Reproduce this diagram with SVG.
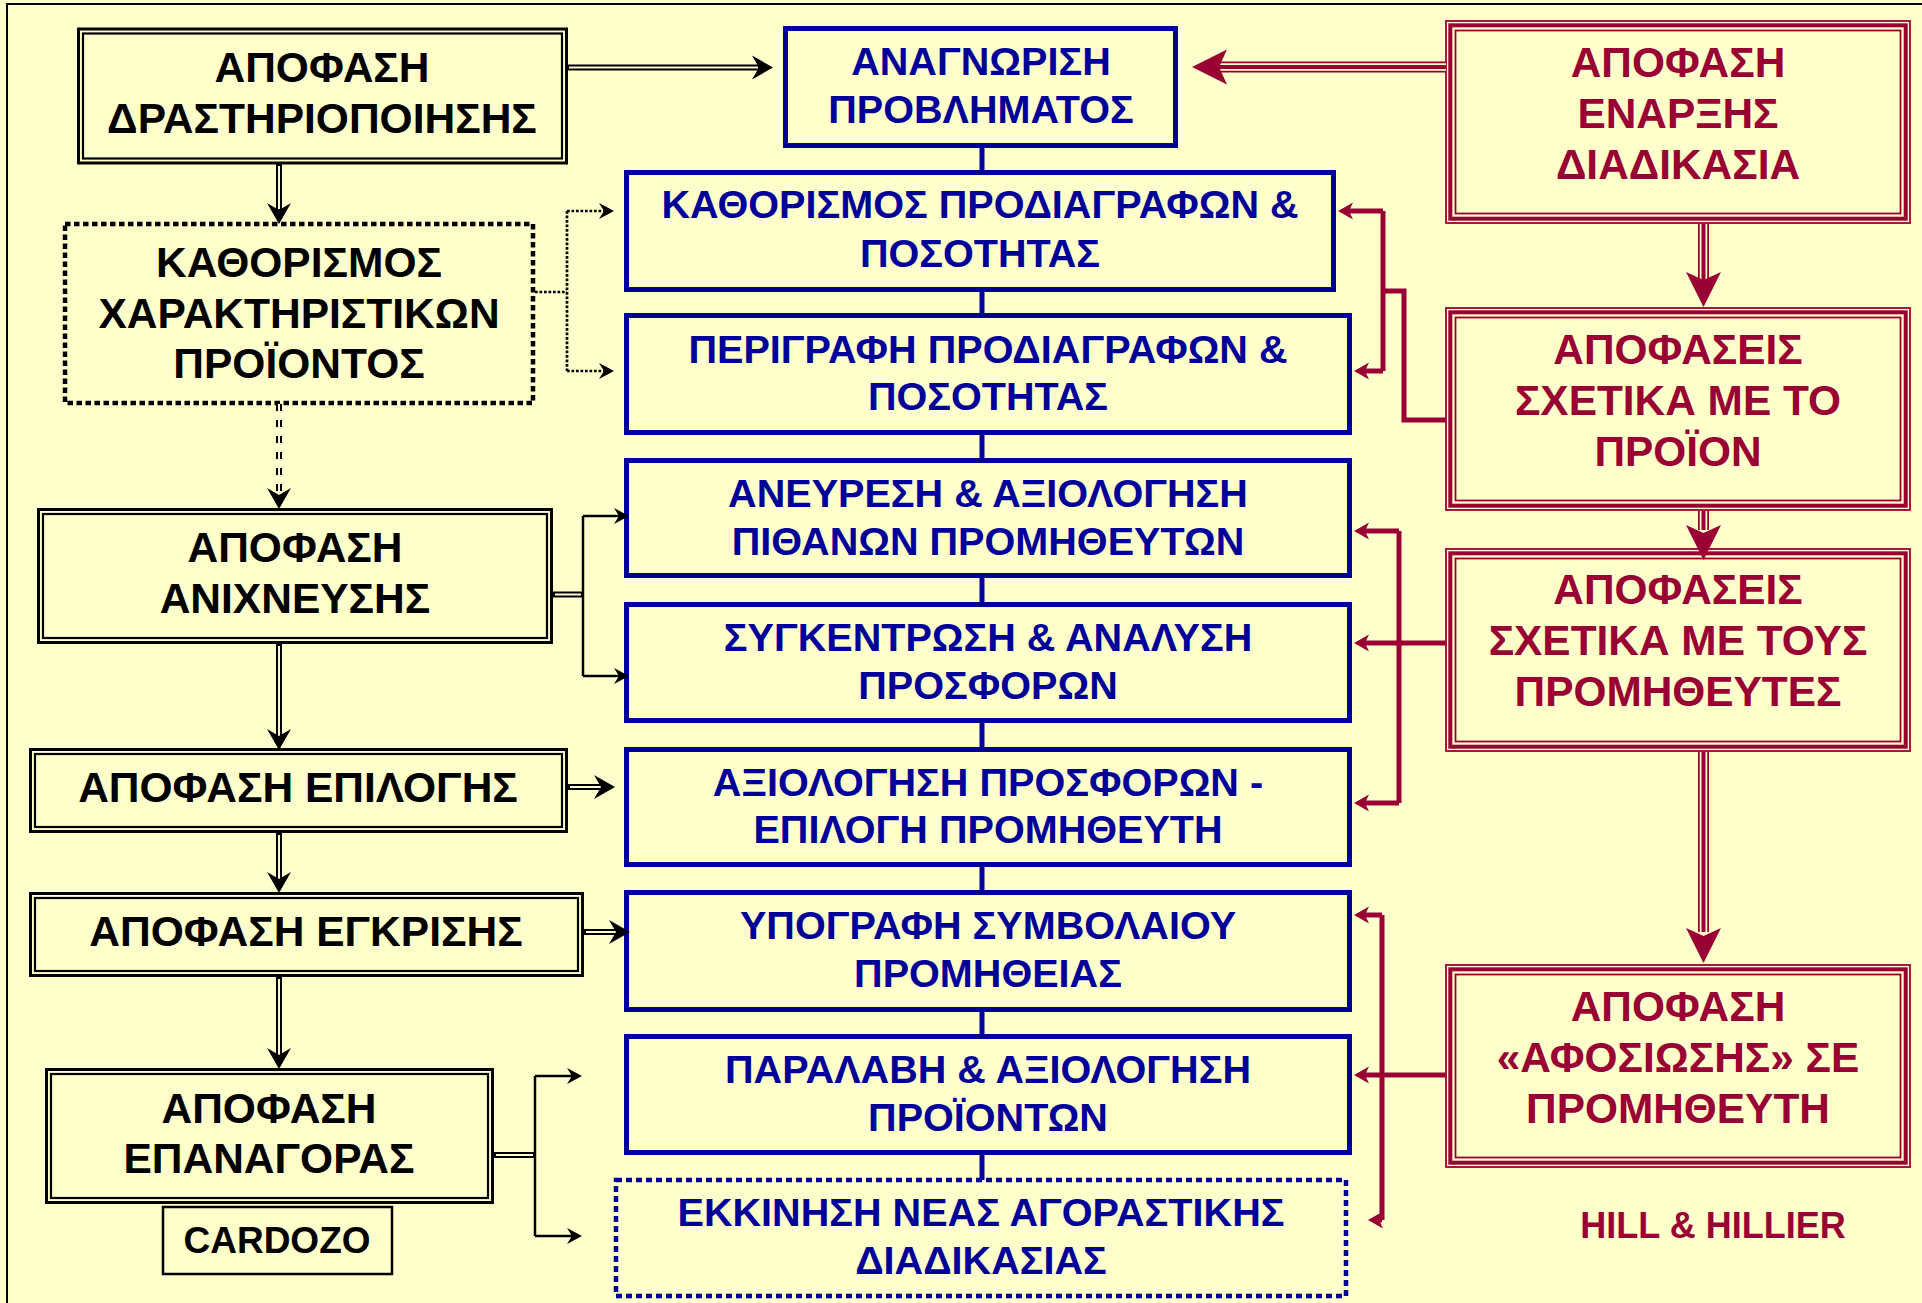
<svg xmlns="http://www.w3.org/2000/svg" xmlns:xlink="http://www.w3.org/1999/xlink" width="1922" height="1303" viewBox="0 0 1922 1303">
<style>
.t{font-family:"Liberation Sans",Arial,"DejaVu Sans",sans-serif;font-weight:bold;text-anchor:middle}
.tk{fill:#000;font-size:42.5px}
.tb{fill:#000099;font-size:39.6px}
.tr{fill:#990033;font-size:42.4px}
.ko{fill:#FFFFCC;stroke:#000;stroke-width:3}
.ki{fill:none;stroke:#000;stroke-width:2.2}
.bb{fill:#FFFFCC;stroke:#000099;stroke-width:5}
.bd{fill:#FFFFCC;stroke:#000099;stroke-width:4.5;stroke-dasharray:6 4}
.kd{fill:#FFFFCC;stroke:#000;stroke-width:4.5;stroke-dasharray:5.5 3.5}
.r1{fill:#FFFFCC;stroke:#990033;stroke-width:1.8}
.r2{fill:none;stroke:#990033;stroke-width:4}
.r3{fill:none;stroke:#990033;stroke-width:1.8}
.dk{fill:none;stroke:#000;stroke-width:6}
.dy{fill:none;stroke:#FFFFCC;stroke-width:2}
.dash{stroke-dasharray:7 9}
.sk{fill:none;stroke:#000;stroke-width:2.5}
.dot{fill:none;stroke:#000;stroke-width:2.7;stroke-dasharray:2.7 1.8}
.ta{fill:none;stroke:#990033;stroke-width:11}
.tb2{fill:none;stroke:#FFFFCC;stroke-width:7.5}
.tc{fill:none;stroke:#990033;stroke-width:4}
.rl{fill:none;stroke:#990033;stroke-width:5}
.bl{fill:none;stroke:#000099;stroke-width:5}
</style>
<defs>
<path id="ahK" d="M0,0 L-21,-12 L-14,0 L-21,12 Z"/>
<path id="ahk" d="M0,0 L-15,-8 L-10,0 L-15,8 Z"/>
<path id="ahR" d="M0,0 L-35,-17.5 L-27,0 L-35,17.5 Z"/>
<path id="ahr" d="M0,0 L-15,-8.5 L-11,0 L-15,8.5 Z"/>
<g id="rframe">
<rect class="r1" x="1" y="1" width="464" height="202"/>
<rect class="r2" x="5.3" y="5.3" width="455.4" height="193.4"/>
<rect class="r3" x="10.5" y="10.5" width="445" height="183"/>
</g>
</defs>
<rect x="0" y="0" width="1922" height="1303" fill="#FFFFCC"/>
<path d="M7,1303 V4 H1922" fill="none" stroke="#000" stroke-width="2"/>

<g id="nodes">
<g id="L1">
<rect class="ko" x="78.5" y="29" width="488" height="134"/>
<rect class="ki" x="83" y="33.5" width="479" height="125"/>
<text class="t tk" x="322" y="82">ΑΠΟΦΑΣΗ</text>
<text class="t tk" x="322" y="133">ΔΡΑΣΤΗΡΙΟΠΟΙΗΣΗΣ</text>
</g>
<g id="L2">
<rect class="kd" x="65" y="224" width="468" height="179"/>
<text class="t tk" x="299" y="277">ΚΑΘΟΡΙΣΜΟΣ</text>
<text class="t tk" x="299" y="328">ΧΑΡΑΚΤΗΡΙΣΤΙΚΩΝ</text>
<text class="t tk" x="299" y="378">ΠΡΟΪΟΝΤΟΣ</text>
</g>
<g id="L3">
<rect class="ko" x="38.5" y="509.5" width="513" height="133"/>
<rect class="ki" x="43" y="514" width="504" height="124"/>
<text class="t tk" x="295" y="562">ΑΠΟΦΑΣΗ</text>
<text class="t tk" x="295" y="613">ΑΝΙΧΝΕΥΣΗΣ</text>
</g>
<g id="L4">
<rect class="ko" x="30.5" y="749.5" width="536" height="82"/>
<rect class="ki" x="35" y="754" width="527" height="73"/>
<text class="t tk" x="298" y="802">ΑΠΟΦΑΣΗ ΕΠΙΛΟΓΗΣ</text>
</g>
<g id="L5">
<rect class="ko" x="30.5" y="893.5" width="552" height="82"/>
<rect class="ki" x="35" y="898" width="543" height="73"/>
<text class="t tk" x="306" y="946">ΑΠΟΦΑΣΗ ΕΓΚΡΙΣΗΣ</text>
</g>
<g id="L6">
<rect class="ko" x="46.5" y="1069.5" width="446" height="133"/>
<rect class="ki" x="51" y="1074" width="437" height="124"/>
<text class="t tk" x="269" y="1123">ΑΠΟΦΑΣΗ</text>
<text class="t tk" x="269" y="1173">ΕΠΑΝΑΓΟΡΑΣ</text>
</g>
<g id="cardozo">
<rect x="163" y="1207" width="229" height="67" fill="#FFFFCC" stroke="#000" stroke-width="2.5"/>
<text class="t" x="277" y="1253" font-size="37" fill="#000">CARDOZO</text>
</g>

<g id="B1">
<rect class="bb" x="785.5" y="28.5" width="390" height="117"/>
<text class="t tb" x="981" y="75">ΑΝΑΓΝΩΡΙΣΗ</text>
<text class="t tb" x="981" y="123">ΠΡΟΒΛΗΜΑΤΟΣ</text>
</g>
<g id="B2">
<rect class="bb" x="626.5" y="172.5" width="707" height="117"/>
<text class="t tb" x="980" y="218">ΚΑΘΟΡΙΣΜΟΣ ΠΡΟΔΙΑΓΡΑΦΩΝ &amp;</text>
<text class="t tb" x="980" y="267">ΠΟΣΟΤΗΤΑΣ</text>
</g>
<g id="B3">
<rect class="bb" x="626.5" y="315.5" width="723" height="117"/>
<text class="t tb" x="988" y="363">ΠΕΡΙΓΡΑΦΗ ΠΡΟΔΙΑΓΡΑΦΩΝ &amp;</text>
<text class="t tb" x="988" y="410">ΠΟΣΟΤΗΤΑΣ</text>
</g>
<g id="B4">
<rect class="bb" x="626.5" y="460.5" width="723" height="115"/>
<text class="t tb" x="988" y="507">ΑΝΕΥΡΕΣΗ &amp; ΑΞΙΟΛΟΓΗΣΗ</text>
<text class="t tb" x="988" y="555">ΠΙΘΑΝΩΝ ΠΡΟΜΗΘΕΥΤΩΝ</text>
</g>
<g id="B5">
<rect class="bb" x="626.5" y="604.5" width="723" height="116"/>
<text class="t tb" x="988" y="651">ΣΥΓΚΕΝΤΡΩΣΗ &amp; ΑΝΑΛΥΣΗ</text>
<text class="t tb" x="988" y="699">ΠΡΟΣΦΟΡΩΝ</text>
</g>
<g id="B6">
<rect class="bb" x="626.5" y="749.5" width="723" height="115"/>
<text class="t tb" x="988" y="796">ΑΞΙΟΛΟΓΗΣΗ ΠΡΟΣΦΟΡΩΝ -</text>
<text class="t tb" x="988" y="843">ΕΠΙΛΟΓΗ ΠΡΟΜΗΘΕΥΤΗ</text>
</g>
<g id="B7">
<rect class="bb" x="626.5" y="892.5" width="723" height="117"/>
<text class="t tb" x="988" y="939">ΥΠΟΓΡΑΦΗ ΣΥΜΒΟΛΑΙΟΥ</text>
<text class="t tb" x="988" y="987">ΠΡΟΜΗΘΕΙΑΣ</text>
</g>
<g id="B8">
<rect class="bb" x="626.5" y="1036.5" width="723" height="116"/>
<text class="t tb" x="988" y="1083">ΠΑΡΑΛΑΒΗ &amp; ΑΞΙΟΛΟΓΗΣΗ</text>
<text class="t tb" x="988" y="1131">ΠΡΟΪΟΝΤΩΝ</text>
</g>
<g id="B9">
<rect class="bd" x="616" y="1180" width="730" height="116"/>
<text class="t tb" x="981" y="1226">ΕΚΚΙΝΗΣΗ ΝΕΑΣ ΑΓΟΡΑΣΤΙΚΗΣ</text>
<text class="t tb" x="981" y="1274">ΔΙΑΔΙΚΑΣΙΑΣ</text>
</g>

<g id="R1" transform="translate(1445,20)">
<use xlink:href="#rframe" href="#rframe"/>
<text class="t tr" x="233" y="57">ΑΠΟΦΑΣΗ</text>
<text class="t tr" x="233" y="108">ΕΝΑΡΞΗΣ</text>
<text class="t tr" x="233" y="159">ΔΙΑΔΙΚΑΣΙΑ</text>
</g>
<g id="R2" transform="translate(1445,307)">
<use xlink:href="#rframe" href="#rframe"/>
<text class="t tr" x="233" y="57">ΑΠΟΦΑΣΕΙΣ</text>
<text class="t tr" x="233" y="108">ΣΧΕΤΙΚΑ ΜΕ ΤΟ</text>
<text class="t tr" x="233" y="159">ΠΡΟΪΟΝ</text>
</g>
<g id="R3" transform="translate(1445,548)">
<use xlink:href="#rframe" href="#rframe"/>
<text class="t tr" x="233" y="56">ΑΠΟΦΑΣΕΙΣ</text>
<text class="t tr" x="233" y="107">ΣΧΕΤΙΚΑ ΜΕ ΤΟΥΣ</text>
<text class="t tr" x="233" y="158">ΠΡΟΜΗΘΕΥΤΕΣ</text>
</g>
<g id="R4" transform="translate(1445,964)">
<use xlink:href="#rframe" href="#rframe"/>
<text class="t tr" x="233" y="57">ΑΠΟΦΑΣΗ</text>
<text class="t tr" x="233" y="108">«ΑΦΟΣΙΩΣΗΣ» ΣΕ</text>
<text class="t tr" x="233" y="159">ΠΡΟΜΗΘΕΥΤΗ</text>
</g>
<g id="source">
<text class="t" x="1713" y="1238" font-size="36" fill="#990033">HILL &amp; HILLIER</text>
</g>
</g>

<g id="connectors">
<path class="bl" d="M982,146 V172 M982,290 V315 M982,433 V460 M982,576 V604 M982,721 V749 M982,865 V892 M982,1010 V1036 M982,1153 V1180"/>
<path class="dk" d="M567,67.5 H760 M279,164 V211 M279,644 V738 M279,833 V881 M279,977 V1057 M553,594.5 H583 M568,787 H603 M584,932 H618 M494,1155 H535"/>
<path class="dy" d="M569,67.5 H758 M279,166 V209 M279,646 V736 M279,835 V879 M279,979 V1055 M555,594.5 H581 M570,787 H601 M586,932 H616 M496,1155 H533"/>
<path class="dk dash" d="M279,404 V497"/>
<path class="dy dash" d="M279,404 V497"/>
<path class="sk" d="M583,516 V676 M583,516 H620 M583,676 H620 M535,1076 V1236 M535,1076 H573 M535,1236 H573"/>
<path class="dot" d="M535,292 H567 M567,211 V371 M567,211 H606 M567,371 H606"/>
<use href="#ahK" xlink:href="#ahK" transform="translate(773,67.5)"/>
<use href="#ahK" xlink:href="#ahK" transform="translate(279,224) rotate(90)"/>
<use href="#ahK" xlink:href="#ahK" transform="translate(279,509) rotate(90)"/>
<use href="#ahK" xlink:href="#ahK" transform="translate(279,750) rotate(90)"/>
<use href="#ahK" xlink:href="#ahK" transform="translate(279,893) rotate(90)"/>
<use href="#ahK" xlink:href="#ahK" transform="translate(279,1069) rotate(90)"/>
<use href="#ahK" xlink:href="#ahK" transform="translate(615,787)"/>
<use href="#ahK" xlink:href="#ahK" transform="translate(630,932)"/>
<use href="#ahk" xlink:href="#ahk" transform="translate(614,211)"/>
<use href="#ahk" xlink:href="#ahk" transform="translate(614,371)"/>
<use href="#ahk" xlink:href="#ahk" transform="translate(629,516)"/>
<use href="#ahk" xlink:href="#ahk" transform="translate(629,676)"/>
<use href="#ahk" xlink:href="#ahk" transform="translate(582,1076)"/>
<use href="#ahk" xlink:href="#ahk" transform="translate(582,1236)"/>
<path class="ta" d="M1446,67 H1216 M1703.5,224 V284 M1703.5,511 V530 M1703.5,752 V932"/>
<path class="tb2" d="M1446,67 H1216 M1703.5,224 V284 M1703.5,511 V530 M1703.5,752 V932"/>
<path class="tc" d="M1446,67 H1216 M1703.5,224 V284 M1703.5,511 V530 M1703.5,752 V932"/>
<path class="rl" d="M1446,420 H1404 V291 H1383 M1383,211 V371 M1383,211 H1346 M1383,371 H1362 M1446,643 H1362 M1399,531 V803 M1399,531 H1362 M1399,803 H1362 M1446,1075 H1362 M1382,915 V1220 M1382,915 H1362 M1382,1220 H1376"/>
<use href="#ahR" xlink:href="#ahR" fill="#990033" transform="translate(1192,67) rotate(180)"/>
<use href="#ahR" xlink:href="#ahR" fill="#990033" transform="translate(1703.5,307) rotate(90)"/>
<use href="#ahR" xlink:href="#ahR" fill="#990033" transform="translate(1703.5,560) rotate(90)"/>
<use href="#ahR" xlink:href="#ahR" fill="#990033" transform="translate(1703.5,963) rotate(90)"/>
<use href="#ahr" xlink:href="#ahr" fill="#990033" transform="translate(1338,211) rotate(180)"/>
<use href="#ahr" xlink:href="#ahr" fill="#990033" transform="translate(1354,371) rotate(180)"/>
<use href="#ahr" xlink:href="#ahr" fill="#990033" transform="translate(1354,531) rotate(180)"/>
<use href="#ahr" xlink:href="#ahr" fill="#990033" transform="translate(1354,643) rotate(180)"/>
<use href="#ahr" xlink:href="#ahr" fill="#990033" transform="translate(1354,803) rotate(180)"/>
<use href="#ahr" xlink:href="#ahr" fill="#990033" transform="translate(1354,915) rotate(180)"/>
<use href="#ahr" xlink:href="#ahr" fill="#990033" transform="translate(1354,1075) rotate(180)"/>
<use href="#ahr" xlink:href="#ahr" fill="#990033" transform="translate(1368,1220) rotate(180)"/>
</g>
</svg>
